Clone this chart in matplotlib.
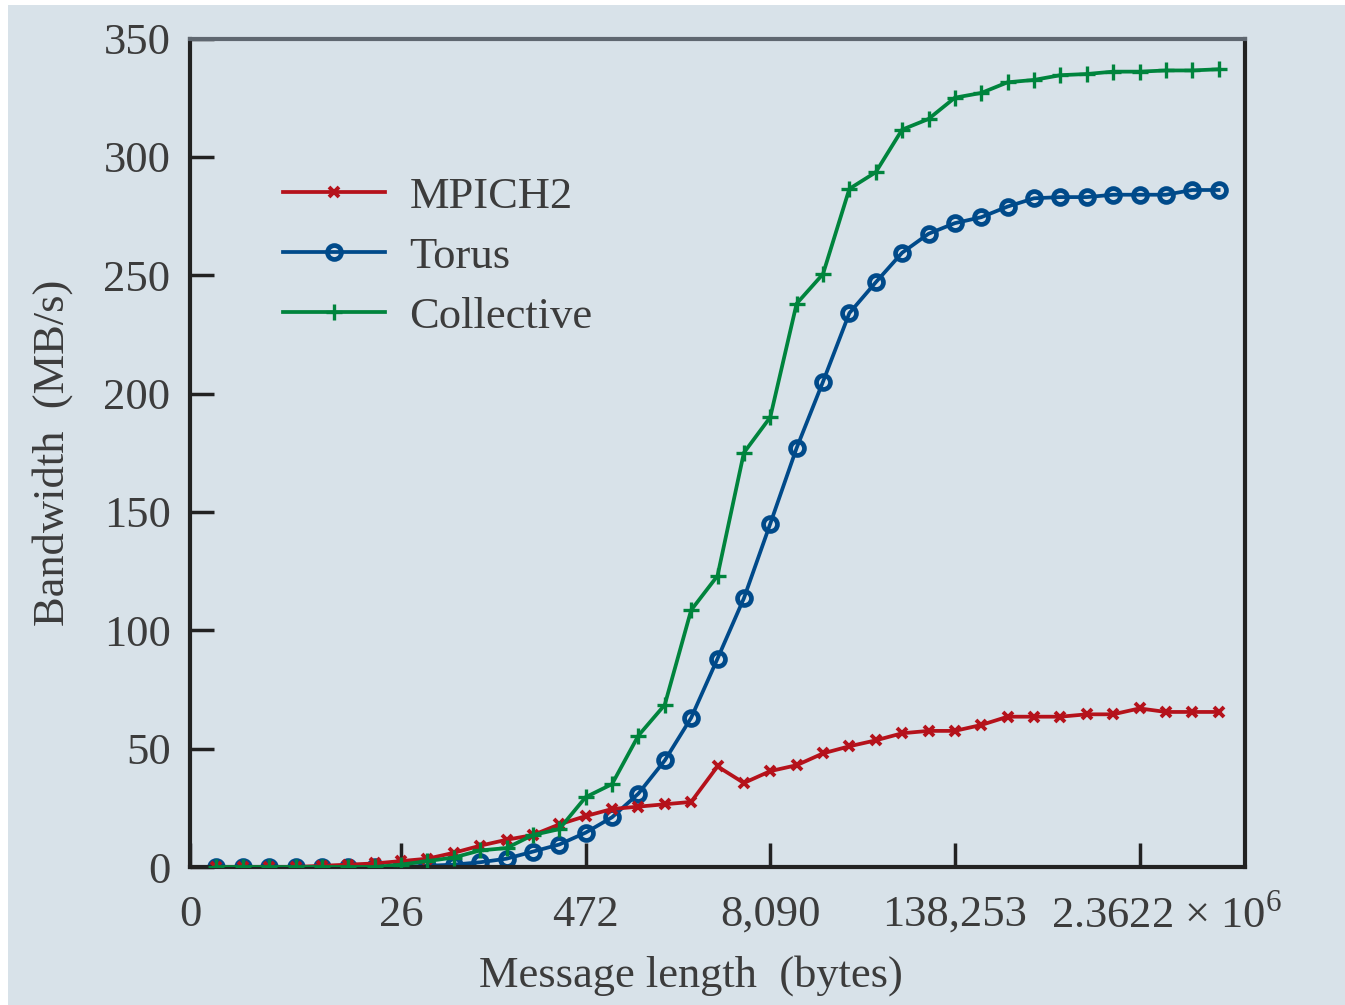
import matplotlib
matplotlib.use("Agg")
import matplotlib.pyplot as plt
from matplotlib.patches import Rectangle
from matplotlib.transforms import ScaledTranslation

# ---- data ----
positions = list(range(1, 40))
mpich2 = [0, 0, 0, 0, 0.5, 1, 1.5, 2.5, 3.5, 6, 9, 11.5, 13.5, 18, 21.5, 24.5, 25.5, 26.5, 27.5,
          42.5, 35.5, 40.5, 43, 48, 51, 53.5, 56.5, 57.5, 57.5, 60, 63.5, 63.5, 63.5, 64.5, 64.5,
          67, 65.5, 65.5, 65.5]
torus = [0, 0, 0, 0, 0, 0, 0, 0, 0.5, 1, 2, 3.5, 6.5, 9.5, 14.5, 21, 31, 45, 63, 88, 113.5, 145,
         177, 205, 234, 247, 259.5, 267.5, 272, 274.5, 279, 282.5, 283, 283, 284, 284, 284, 286, 286]
collective = [0, 0, 0, 0, 0, 0, 0, 1, 2.5, 4, 7, 8, 13.5, 16, 29.5, 35, 55.5, 68.5, 108.5, 123,
              175, 190, 238, 250.5, 286.5, 293.5, 311.5, 316, 325, 327, 331.5, 332.5, 334.5, 335,
              336, 336, 336.5, 336.5, 337]
xtick_pos = [0, 8, 15, 22, 29, 36]
xtick_labels = ["0", "26", "472", "8,090", "138,253", "2.3622 \u00d7 10$^{6}$"]
yticks = [0, 50, 100, 150, 200, 250, 300, 350]

plt.rcParams['font.family'] = ['Liberation Serif', 'DejaVu Serif']
plt.rcParams['mathtext.fontset'] = 'custom'
plt.rcParams['mathtext.rm'] = 'Liberation Serif'

bg = '#d8e2e9'
txt = '#3c3c3c'
fs = 32

fig = plt.figure(figsize=(13.45, 10.05), dpi=100, facecolor='white')
fig.patches.append(Rectangle((8/1345, 0), 1, 1 - 5/1005, transform=fig.transFigure,
                             facecolor=bg, edgecolor='none', zorder=-10))
ax = fig.add_axes([190/1345, (1005-867)/1005, (1245-190)/1345, (867-38.5)/1005])
ax.set_facecolor(bg)

ax.plot(positions, mpich2, color='#b5121b', lw=2.7, marker='x', ms=7.5, mew=2.8, label='MPICH2', zorder=3)
ax.plot(positions, torus, color='#004a8a', lw=2.7, marker='o', ms=10, mew=3.4, mfc='none', label='Torus', zorder=2)
ax.plot(positions, collective, color='#00843d', lw=2.7, marker='+', ms=11, mew=2.4, label='Collective', zorder=4)

ax.set_xlim(0, 40)
ax.set_ylim(0, 350)
ax.set_xticks(xtick_pos)
ax.set_xticklabels(xtick_labels)
ax.set_yticks(yticks)
ax.tick_params(direction='in', length=17, width=2.5, color='#222222', labelsize=fs,
               labelcolor=txt)
ax.tick_params(axis='x', pad=20)
ax.tick_params(axis='y', pad=14)
# shift the long last tick label to the right as in the original
last = ax.get_xticklabels()[-1]
last.set_transform(last.get_transform() + ScaledTranslation(27/100, 0, fig.dpi_scale_trans))
for s in ax.spines.values():
    s.set_color('#222222')
    s.set_linewidth(3)
ax.spines['top'].set_color('#5f6770')

ax.set_xlabel('Message length  (bytes)', fontsize=fs, color=txt, labelpad=13)
ax.xaxis.label.set_x(0.475)
ax.set_ylabel('Bandwidth  (MB/s)', fontsize=fs, color=txt, labelpad=22)

leg = ax.legend(loc='upper left', bbox_to_anchor=(0.071, 0.855), frameon=False, fontsize=fs,
                handlelength=2.3, handletextpad=0.55, labelspacing=0.45, borderaxespad=0)
for t in leg.get_texts():
    t.set_color(txt)

fig.savefig('out.png', dpi=100, facecolor='white')
